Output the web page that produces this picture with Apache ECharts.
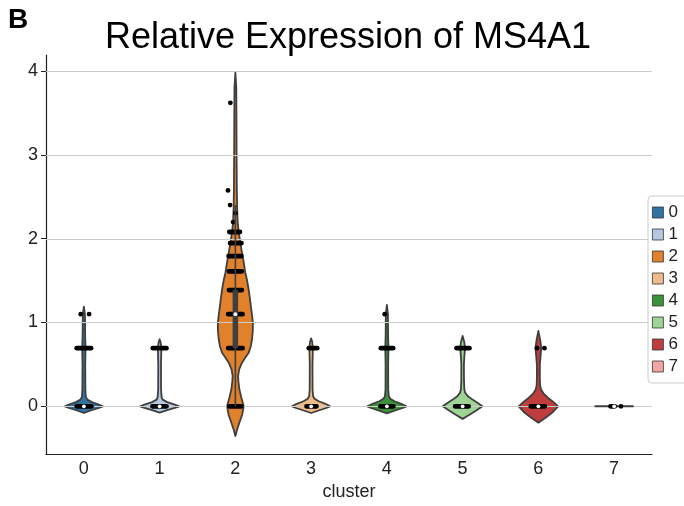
<!DOCTYPE html>
<html>
<head>
<meta charset="utf-8">
<script src="https://cdn.jsdelivr.net/npm/echarts@6/dist/echarts.min.js"></script>
<style>
  html, body { margin: 0; padding: 0; background: #fff; }
  #chart { width: 684px; height: 506px; }
</style>
</head>
<body>
<div id="chart"></div>
<script>
// clusters on the x axis
const categories = ['0', '1', '2', '3', '4', '5', '6', '7'];
const yTicks = [0, 1, 2, 3, 4];
const clusterColors = ['#3274a1', '#b5c8e1', '#e1812c', '#eebb89', '#3a923a', '#9fd495', '#c03d3e', '#f2a5a3'];

// violin outline per cluster: [expression, half width as share of the category band]
const violin0 = [[-0.08, 0], [-0.05, 0.092], [-0.02, 0.198], [0, 0.251], [0.02, 0.198], [0.05, 0.106], [0.08, 0.046], [0.11, 0.026], [0.2, 0.02], [0.5, 0.018], [0.69, 0.022], [0.85, 0.017], [1.1, 0.014], [1.19, 0]];
const violin1 = [[-0.075, 0], [-0.045, 0.1], [-0.02, 0.2], [0, 0.258], [0.02, 0.2], [0.05, 0.1], [0.08, 0.04], [0.11, 0.026], [0.2, 0.019], [0.5, 0.018], [0.69, 0.023], [0.76, 0.014], [0.8, 0]];
const violin2 = [[-0.354, 0], [-0.28, 0.022], [-0.195, 0.053], [-0.1, 0.09], [0, 0.11], [0.1, 0.08], [0.2, 0.053], [0.3, 0.04], [0.36, 0.036], [0.44, 0.05], [0.52, 0.088], [0.58, 0.13], [0.64, 0.176], [0.72, 0.205], [0.8, 0.22], [0.9, 0.23], [1.0, 0.231], [1.1, 0.218], [1.19, 0.205], [1.3, 0.19], [1.39, 0.176], [1.5, 0.155], [1.59, 0.132], [1.7, 0.113], [1.79, 0.096], [1.87, 0.08], [1.95, 0.066], [2.03, 0.052], [2.11, 0.04], [2.2, 0.03], [2.38, 0.023], [2.6, 0.019], [2.78, 0.018], [3.0, 0.016], [3.5, 0.014], [3.8, 0.012], [3.98, 0]];
const violin3 = [[-0.08, 0], [-0.05, 0.1], [-0.02, 0.2], [0, 0.251], [0.03, 0.19], [0.06, 0.1], [0.09, 0.045], [0.12, 0.026], [0.2, 0.019], [0.5, 0.018], [0.69, 0.023], [0.77, 0.014], [0.81, 0]];
const violin4 = [[-0.085, 0], [-0.05, 0.11], [-0.02, 0.21], [0, 0.258], [0.03, 0.19], [0.06, 0.1], [0.09, 0.045], [0.12, 0.026], [0.2, 0.018], [0.5, 0.017], [0.69, 0.021], [0.85, 0.016], [1.1, 0.014], [1.21, 0]];
const violin5 = [[-0.15, 0], [-0.1, 0.09], [-0.05, 0.18], [0, 0.262], [0.04, 0.2], [0.08, 0.13], [0.12, 0.07], [0.16, 0.035], [0.2, 0.023], [0.3, 0.018], [0.5, 0.017], [0.6, 0.023], [0.69, 0.033], [0.76, 0.023], [0.84, 0]];
const violin6 = [[-0.195, 0], [-0.14, 0.09], [-0.07, 0.19], [0, 0.26], [0.05, 0.2], [0.1, 0.13], [0.15, 0.07], [0.2, 0.035], [0.25, 0.023], [0.35, 0.019], [0.5, 0.02], [0.6, 0.029], [0.69, 0.038], [0.78, 0.026], [0.9, 0]];
const violin7 = [[0, 0.258]];
const violinShapes = [violin0, violin1, violin2, violin3, violin4, violin5, violin6, violin7];

// inner box: [whisker low, q1, median, q3, whisker high]
const boxStats = [
  [0, 0, 0, 0, 0],
  [0, 0, 0, 0, 0],
  [0, 0.693, 1.099, 1.386, 2.40],
  [0, 0, 0, 0, 0],
  [0, 0, 0, 0, 0],
  [0, 0, 0, 0, 0],
  [0, 0, 0, 0, 0],
  [0, 0, 0, 0, 0]
];

// dense rows of cells: [cluster, expression, jitter from, jitter to]
const pointBands = [
  [0, 0, -0.095, 0.1], [0, 0.693, -0.095, 0.095],
  [1, 0, -0.095, 0.09], [1, 0.693, -0.09, 0.09],
  [2, 0, -0.08, 0.08], [2, 0.693, -0.095, 0.095], [2, 1.099, -0.095, 0.095], [2, 1.386, -0.085, 0.085],
  [2, 1.609, -0.085, 0.085], [2, 1.792, -0.09, 0.08], [2, 1.946, -0.07, 0.08], [2, 2.079, -0.08, 0.06],
  [3, 0, -0.061, 0.07], [3, 0.693, -0.03, 0.08],
  [4, 0, -0.085, 0.085], [4, 0.693, -0.08, 0.083],
  [5, 0, -0.1, 0.08], [5, 0.693, -0.08, 0.09],
  [6, 0, -0.1, 0.085],
  [7, 0, -0.048, 0.008]
];

// sparse cells: [cluster, expression, jitter]
const singlePoints = [
  [0, 1.099, -0.042], [0, 1.099, 0.069],
  [2, 2.197, -0.03], [2, 2.303, 0.0], [2, 2.40, -0.07], [2, 2.575, -0.098], [2, 3.62, -0.066],
  [4, 1.099, -0.029],
  [6, 0.693, -0.018], [6, 0.693, 0.08],
  [7, 0, 0.09]
];

const EDGE = '#3f3f3f';
const FONT = 'Liberation Sans, Arial, Helvetica, sans-serif';

const chart = echarts.init(document.getElementById('chart'));

function renderViolin(params, api) {
  const ci = api.value(0);
  const shape = violinShapes[ci];
  const bw = api.size([1, 0])[0];
  if (shape.length === 1) {
    // a cluster with a single value: seaborn draws a flat line
    const c = api.coord([ci, shape[0][0]]);
    const hw = shape[0][1] * bw;
    return {
      type: 'line',
      shape: { x1: c[0] - hw, y1: c[1], x2: c[0] + hw, y2: c[1] },
      style: { stroke: EDGE, lineWidth: 2 }
    };
  }
  const left = [], right = [];
  shape.forEach(function (s) {
    const c = api.coord([ci, s[0]]);
    left.push([c[0] - s[1] * bw, c[1]]);
    right.push([c[0] + s[1] * bw, c[1]]);
  });
  return {
    type: 'polygon',
    shape: { points: left.concat(right.reverse()) },
    style: { fill: api.visual('color'), stroke: EDGE, lineWidth: 1.8, lineJoin: 'round' }
  };
}

function renderGrid(params, api) {
  const cs = params.coordSys;
  const y = Math.round(api.coord([0, api.value(1)])[1]) + 0.5;
  return {
    type: 'line',
    shape: { x1: cs.x, y1: y, x2: cs.x + cs.width, y2: y },
    style: { stroke: '#cccccc', lineWidth: 1 }
  };
}

function renderBand(params, api) {
  const ci = api.value(0);
  const bw = api.size([1, 0])[0];
  const c = api.coord([ci, api.value(1)]);
  const r = 2.4;
  const x0 = c[0] + api.value(2) * bw - r;
  const x1 = c[0] + api.value(3) * bw + r;
  return {
    type: 'rect',
    shape: { x: x0, y: c[1] - r, width: x1 - x0, height: 2 * r, r: r },
    style: { fill: '#000' }
  };
}

function renderPoint(params, api) {
  const ci = api.value(0);
  const bw = api.size([1, 0])[0];
  const c = api.coord([ci, api.value(1)]);
  return {
    type: 'circle',
    shape: { cx: c[0] + api.value(2) * bw, cy: c[1], r: 2.4 },
    style: { fill: '#000' }
  };
}

function renderBox(params, api) {
  const ci = api.value(0);
  const lo = api.coord([ci, api.value(1)]);
  const q1 = api.coord([ci, api.value(2)]);
  const med = api.coord([ci, api.value(3)]);
  const q3 = api.coord([ci, api.value(4)]);
  const hi = api.coord([ci, api.value(5)]);
  const children = [];
  if (hi[1] < lo[1]) {
    children.push({ type: 'line', shape: { x1: lo[0], y1: lo[1], x2: hi[0], y2: hi[1] }, style: { stroke: EDGE, lineWidth: 1.6 } });
  }
  if (q3[1] < q1[1]) {
    children.push({ type: 'line', shape: { x1: q1[0], y1: q1[1], x2: q3[0], y2: q3[1] }, style: { stroke: EDGE, lineWidth: 5.5 } });
  }
  children.push({ type: 'circle', shape: { cx: med[0], cy: med[1], r: 1.9 }, style: { fill: '#fff' } });
  return { type: 'group', children: children };
}

const violinSeries = categories.map(function (name, i) {
  return {
    name: name,
    type: 'custom',
    renderItem: renderViolin,
    data: [[i, 0]],
    itemStyle: { color: clusterColors[i] },
    z: violinShapes[i].length === 1 ? 3 : 1,
    silent: true
  };
});

const option = {
  animation: false,
  textStyle: { fontFamily: FONT },
  graphic: [
    { type: 'text', x: 8, y: 20, style: { text: 'B', font: 'bold 28px ' + FONT, fill: '#000', textVerticalAlign: 'middle' } },
    { type: 'text', x: 348, y: 38, style: { text: 'Relative Expression of MS4A1', font: '36px ' + FONT, fill: '#000', textAlign: 'center', textVerticalAlign: 'middle' } }
  ],
  legend: {
    data: categories,
    orient: 'vertical',
    left: 648,
    top: 196,
    icon: 'rect',
    itemWidth: 11,
    itemHeight: 11,
    itemGap: 5,
    padding: [8, 12, 8, 4],
    borderColor: '#cccccc',
    borderWidth: 1,
    borderRadius: 4,
    backgroundColor: '#fff',
    itemStyle: { borderColor: '#333', borderWidth: 0.8 },
    textStyle: { fontSize: 17, color: '#222', fontFamily: FONT },
    selectedMode: false
  },
  grid: { left: 46, right: 32, top: 55, bottom: 46 },
  xAxis: {
    type: 'category',
    data: categories,
    boundaryGap: true,
    name: 'cluster',
    nameLocation: 'middle',
    nameGap: 25,
    nameTextStyle: { fontSize: 18, color: '#222' },
    axisLine: { onZero: false, lineStyle: { color: '#222', width: 1.2 } },
    axisTick: { alignWithLabel: true, length: 5, lineStyle: { color: '#222' } },
    axisLabel: { fontSize: 18, color: '#222', margin: 6 },
    splitLine: { show: false }
  },
  yAxis: {
    type: 'value',
    min: -0.57,
    max: 4.19,
    axisLine: { show: true, onZero: false, lineStyle: { color: '#222', width: 1.2 } },
    axisTick: { show: true, length: 5, customValues: yTicks, lineStyle: { color: '#222' } },
    axisLabel: { fontSize: 18, color: '#222', margin: 8, customValues: yTicks },
    splitLine: { show: false }
  },
  series: violinSeries.concat([
    {
      type: 'custom',
      renderItem: renderGrid,
      data: yTicks.map(function (v) { return [0, v]; }),
      z: 2,
      silent: true
    },
    {
      type: 'custom',
      renderItem: renderBand,
      data: pointBands,
      encode: { x: 0, y: 1 },
      z: 3,
      silent: true
    },
    {
      type: 'custom',
      renderItem: renderPoint,
      data: singlePoints,
      encode: { x: 0, y: 1 },
      z: 3,
      silent: true
    },
    {
      type: 'custom',
      renderItem: renderBox,
      data: boxStats.map(function (b, i) { return [i].concat(b); }),
      encode: { x: 0, y: 3 },
      z: 4,
      silent: true
    }
  ])
};

chart.setOption(option);
</script>
</body>
</html>
